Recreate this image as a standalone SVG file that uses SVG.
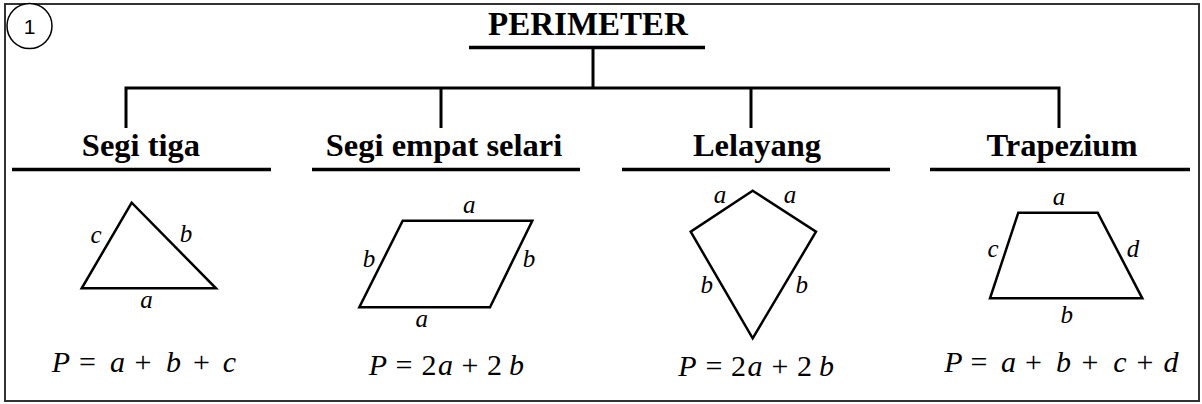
<svg xmlns="http://www.w3.org/2000/svg" width="1202" height="404" viewBox="0 0 1202 404">
<style>
.title{font-family:"Liberation Serif",serif;font-weight:bold;font-size:33px;fill:#000;text-anchor:middle}
.head{font-family:"Liberation Serif",serif;font-weight:bold;font-size:32.5px;fill:#000;text-anchor:middle}
.uline{stroke:#000;stroke-width:3.5;fill:none}
.tree{stroke:#000;stroke-width:3;fill:none}
.shape{stroke:#000;stroke-width:2.5;fill:none;stroke-linejoin:miter}
.lab{font-family:"Liberation Serif",serif;font-style:italic;font-size:25px;fill:#000;text-anchor:middle}
.f{font-family:"Liberation Serif",serif;font-size:30px;fill:#000;text-anchor:middle}
.v{font-style:italic}
</style>
<rect x="5" y="4" width="1194" height="397" fill="#fff" stroke="#333" stroke-width="2"/>
<g id="badge">
<circle cx="29.5" cy="26" r="22.5" fill="#fff" stroke="#000" stroke-width="1.5"/>
<text x="29.5" y="33.5" font-family="Liberation Sans, sans-serif" font-size="21" text-anchor="middle">1</text>
</g>
<g id="connectors">
<path class="tree" d="M593 48 V88 M124.5 88 H1060.5 M126 88 V128 M441 88 V128 M751 88 V128 M1059 88 V128"/>
</g>
<g id="perimeter">
<text class="title" x="588" y="35">PERIMETER</text>
<line class="uline" x1="469" y1="47.5" x2="705" y2="47.5"/>
</g>
<g id="segi-tiga">
<text class="head" x="141" y="156">Segi tiga</text>
<line class="uline" x1="12" y1="169.5" x2="271" y2="169.5"/>
<polygon class="shape" points="131.7,202.7 81.7,288.3 216,288.3"/>
<text class="lab" x="96" y="243">c</text>
<text class="lab" x="186" y="242">b</text>
<text class="lab" x="146.5" y="308">a</text>
<text class="f" y="372"><tspan class="v" x="61">P</tspan><tspan x="87.5">=</tspan><tspan class="v" x="117.5">a</tspan><tspan x="143">+</tspan><tspan class="v" x="173.5">b</tspan><tspan x="201.5">+</tspan><tspan class="v" x="229.5">c</tspan></text>
</g>
<g id="segi-empat-selari">
<text class="head" x="444" y="156">Segi empat selari</text>
<line class="uline" x1="312" y1="169.5" x2="580" y2="169.5"/>
<polygon class="shape" points="402.7,220.7 532.3,220.7 490,307.3 359.3,307.3"/>
<text class="lab" x="469.3" y="212.7">a</text>
<text class="lab" x="369" y="267">b</text>
<text class="lab" x="529" y="267">b</text>
<text class="lab" x="421.7" y="326.7">a</text>
<text class="f" y="375"><tspan class="v" x="378">P</tspan><tspan x="404">=</tspan><tspan x="429">2</tspan><tspan class="v" x="445.5">a</tspan><tspan x="470">+</tspan><tspan x="494.5">2</tspan><tspan class="v" x="516.5">b</tspan></text>
</g>
<g id="lelayang">
<text class="head" x="757" y="156">Lelayang</text>
<line class="uline" x1="622" y1="169.5" x2="890" y2="169.5"/>
<polygon class="shape" points="752.7,190.7 816,231.7 752.7,338.3 690.7,231.7"/>
<text class="lab" x="720" y="203.3">a</text>
<text class="lab" x="790" y="203.3">a</text>
<text class="lab" x="706.7" y="293.3">b</text>
<text class="lab" x="801.7" y="293.3">b</text>
<text class="f" y="376"><tspan class="v" x="687.5">P</tspan><tspan x="714">=</tspan><tspan x="738.5">2</tspan><tspan class="v" x="755">a</tspan><tspan x="780">+</tspan><tspan x="804.5">2</tspan><tspan class="v" x="826.5">b</tspan></text>
</g>
<g id="trapezium">
<text class="head" x="1062" y="156">Trapezium</text>
<line class="uline" x1="930" y1="169.5" x2="1190" y2="169.5"/>
<polygon class="shape" points="1018.3,212.7 1097.7,212.7 1142.3,298.3 990,298.3"/>
<text class="lab" x="1059" y="205">a</text>
<text class="lab" x="993" y="256.7">c</text>
<text class="lab" x="1133" y="256.7">d</text>
<text class="lab" x="1066.7" y="323">b</text>
<text class="f" y="372"><tspan class="v" x="953.5">P</tspan><tspan x="979">=</tspan><tspan class="v" x="1008.5">a</tspan><tspan x="1033.5">+</tspan><tspan class="v" x="1063.5">b</tspan><tspan x="1090">+</tspan><tspan class="v" x="1120">c</tspan><tspan x="1145">+</tspan><tspan class="v" x="1171">d</tspan></text>
</g>
</svg>
